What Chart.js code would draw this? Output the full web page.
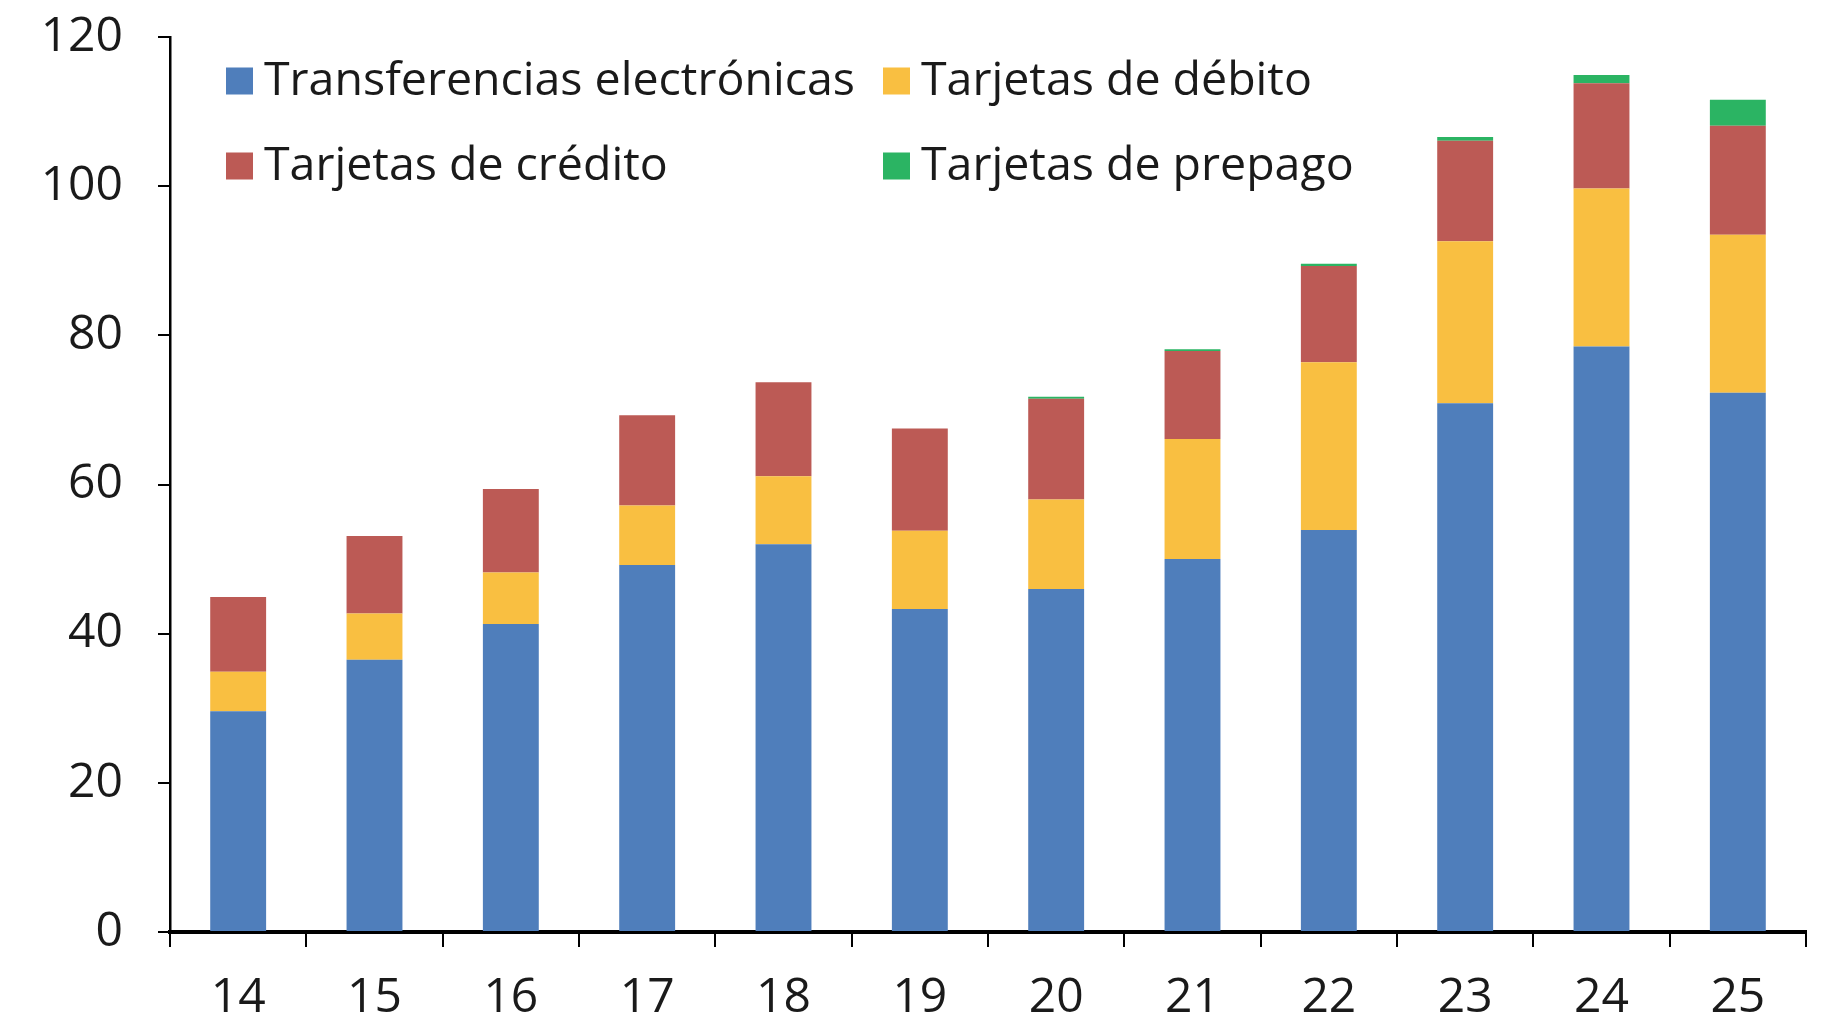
<!DOCTYPE html>
<html>
<head>
<meta charset="utf-8">
<script src="https://cdn.jsdelivr.net/npm/chart.js@4"></script>
<style>
  html, body { margin: 0; padding: 0; background: #ffffff; }
  #wrap { width: 1821px; height: 1018px; }
</style>
</head>
<body>
<div id="wrap"><canvas id="c" width="1821" height="1018"></canvas></div>
<script>
const categories = ['14', '15', '16', '17', '18', '19', '20', '21', '22', '23', '24', '25'];
const seriesNames = ['Transferencias electrónicas', 'Tarjetas de débito', 'Tarjetas de crédito', 'Tarjetas de prepago'];
const transferencias = [29.6, 36.5, 41.3, 49.2, 52.0, 43.3, 46.0, 50.0, 53.9, 70.9, 78.5, 72.3];
const debito        = [5.3, 6.2, 6.9, 8.0, 9.1, 10.5, 12.0, 16.1, 22.5, 21.7, 21.2, 21.2];
const credito       = [10.0, 10.4, 11.2, 12.1, 12.6, 13.7, 13.5, 11.8, 12.9, 13.5, 14.1, 14.6];
const prepago       = [0, 0, 0, 0, 0, 0, 0.25, 0.25, 0.3, 0.5, 1.1, 3.5];
const yTicks = [0, 20, 40, 60, 80, 100, 120];

const colors = ['#4F7EBB', '#F9BF41', '#BC5A55', '#2BB463'];
const FONT = "'Open Sans', 'DejaVu Sans', sans-serif";

const legendPlugin = {
  id: 'insideLegend',
  afterDraw(chart) {
    const ctx = chart.ctx;
    const cols = [226, 883];
    const rows = [81, 166];
    const box = 27;
    ctx.save();
    ctx.font = '46.5px ' + FONT;
    ctx.textBaseline = 'middle';
    ctx.textAlign = 'left';
    chart.data.datasets.forEach((ds, i) => {
      const x = cols[i % 2];
      const y = rows[Math.floor(i / 2)];
      ctx.fillStyle = ds.backgroundColor;
      ctx.fillRect(x, y - box / 2, box, box);
      ctx.fillStyle = '#1a1a1a';
      ctx.fillText(ds.label, x + box + 11, y + 1);
    });
    ctx.restore();
  }
};

const dataArrays = [transferencias, debito, credito, prepago];

new Chart(document.getElementById('c'), {
  type: 'bar',
  data: {
    labels: categories,
    datasets: dataArrays.map((arr, i) => ({
      label: seriesNames[i],
      data: arr,
      backgroundColor: colors[i],
      borderWidth: 0,
      barPercentage: 0.41,
      categoryPercentage: 1.0
    }))
  },
  options: {
    responsive: false,
    devicePixelRatio: 1,
    animation: false,
    layout: { padding: { top: 37, right: 15, left: 0, bottom: 0 } },
    plugins: {
      legend: { display: false },
      tooltip: { enabled: false }
    },
    scales: {
      x: {
        stacked: true,
        offset: true,
        border: { display: true, color: '#000', width: 4 },
        grid: { display: true, drawOnChartArea: false, drawTicks: true, tickLength: 15, color: '#000', lineWidth: 2, offset: true },
        ticks: { color: '#1a1a1a', font: { family: FONT, size: 48 }, padding: 23, maxRotation: 0, autoSkip: false },
        afterFit(scale) { scale.height = 86; scale.paddingLeft = 0; scale.paddingRight = 0; }
      },
      y: {
        stacked: true,
        min: 0,
        max: 120,
        afterBuildTicks(scale) { scale.ticks = yTicks.map(v => ({ value: v })); },
        border: { display: true, color: '#000', width: 2.5 },
        grid: { display: true, drawOnChartArea: false, drawTicks: true, tickLength: 12, color: '#000', lineWidth: 2 },
        ticks: { color: '#1a1a1a', font: { family: FONT, size: 48 }, padding: 35 },
        afterFit(scale) { scale.width = 170; scale.paddingTop = 0; scale.paddingBottom = 0; }
      }
    }
  },
  plugins: [legendPlugin]
});
</script>
</body>
</html>
